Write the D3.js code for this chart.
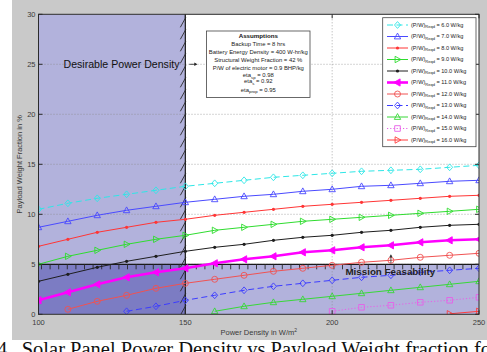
<!DOCTYPE html>
<html><head><meta charset="utf-8">
<script src="https://cdn.jsdelivr.net/npm/d3@7"></script>
<style>
html,body{margin:0;padding:0;background:#fff;}
svg{display:block;font-family:"Liberation Sans",Arial,Helvetica,sans-serif;}
</style></head><body>
<svg id="chart" width="487" height="352"></svg>
<script>
// Power density samples (W/m^2)
const powerDensity = [100,110,120,130,140,150,160,170,180,190,200,210,220,230,240,250];

// Payload weight fraction (%) for each required power-to-weight ratio (W/kg)
const pw6  = [10.5,11.1,11.6,12.0,12.4,12.8,13.1,13.4,13.7,13.9,14.1,14.3,14.4,14.5,14.7,14.9];
const pw7  = [8.7,9.3,9.9,10.4,10.8,11.2,11.5,11.8,12.0,12.3,12.5,12.8,12.9,13.1,13.3,13.4];
const pw8  = [6.8,7.5,8.2,8.7,9.2,9.5,9.9,10.2,10.5,10.8,11.0,11.2,11.4,11.6,11.8,11.9];
const pw9  = [5.0,5.8,6.4,7.0,7.5,7.9,8.4,8.7,9.0,9.3,9.5,9.7,9.9,10.1,10.3,10.5];
const pw10 = [3.3,4.0,4.7,5.3,5.8,6.3,6.7,7.0,7.4,7.7,7.9,8.2,8.4,8.7,8.9,9.0];
const pw11 = [1.4,2.2,3.0,3.7,4.2,4.6,5.1,5.5,5.8,6.2,6.4,6.7,6.9,7.2,7.4,7.5];
const pw12 = [null,0.5,1.3,1.9,2.6,3.1,3.5,3.9,4.3,4.6,4.9,5.2,5.4,5.7,5.9,6.1];
const pw13 = [null,null,null,0.3,0.8,1.4,1.9,2.4,2.8,3.1,3.4,3.7,3.9,4.2,4.4,4.6];
const pw14 = [null,null,null,null,null,null,0.3,0.8,1.2,1.5,1.8,2.1,2.4,2.7,3.0,3.3];
const pw15 = [null,null,null,null,null,null,null,null,null,null,0.3,0.7,0.9,1.2,1.4,1.7];
const pw16 = [null,null,null,null,null,null,null,null,null,null,null,null,null,null,0.05,0.3];

const seriesValues = [pw6,pw7,pw8,pw9,pw10,pw11,pw12,pw13,pw14,pw15,pw16];
const seriesLabels = ["6.0","7.0","8.0","9.0","10.0","11.0","12.0","13.0","14.0","15.0","16.0"];

// Axis ticks
const xTicks = [100,150,200,250];
const yTicks = [0,5,10,15,20,25,30];

// Shaded design regions
const desirableRegion = {x0:100, x1:150, y0:0, y1:30};
const feasibleRegion  = {x0:100, x1:250, y0:0, y1:5};

// Assumption box lines
const assumptions = [
  ["Backup Time =  8 hrs"],
  ["Battery Energy Density = 400 W-hr/kg"],
  ["Structural Weight Fraction = 42 %"],
  ["P/W of electric motor = 0.9 BHP/kg"],
  ["eta","sp"," = 0.98"],
  ["eta","s"," = 0.92"],
  ["eta","prop"," = 0.95"]
];

// Line styles per series
const styles = [
  {color:"#2ee6e6", dash:"6,3.5", marker:"diamond", width:1},
  {color:"#4a4aff", dash:null, marker:"triUp", width:1},
  {color:"#ff3535", dash:null, marker:"dot", width:1},
  {color:"#2fdc2f", dash:null, marker:"triRight", width:1},
  {color:"#1e1e1e", dash:null, marker:"dot", width:1},
  {color:"#ff00ff", dash:null, marker:"triLeftFill", width:2.6},
  {color:"#f05252", dash:null, marker:"circle", width:1},
  {color:"#3c3cff", dash:"6,3.5", marker:"diamond", width:1},
  {color:"#38d838", dash:null, marker:"triUp", width:1},
  {color:"#e860e8", dash:"1.2,2", marker:"square", width:1},
  {color:"#ff3c3c", dash:null, marker:"triRight", width:1}
];

const svg = d3.select("#chart");
const W = 487, H = 352;

// Figure background
svg.append("rect").attr("x",12).attr("y",0).attr("width",W-12).attr("height",340).attr("fill","#c9c9c9");

const x = d3.scaleLinear().domain([100,250]).range([38.5,479]);
const y = d3.scaleLinear().domain([0,30]).range([314.3,14.3]);

// Axes background
svg.append("rect").attr("x",x(100)).attr("y",y(30)).attr("width",x(250)-x(100)).attr("height",y(0)-y(30)).attr("fill","#fff");

svg.append("clipPath").attr("id","plotClip").append("rect")
  .attr("x",x(100)).attr("y",y(30)).attr("width",x(250)-x(100)).attr("height",y(0)-y(30));

const plot = svg.append("g").attr("clip-path","url(#plotClip)");

// Shaded regions (overlap darkens)
[desirableRegion, feasibleRegion].forEach(r => {
  plot.append("rect")
    .attr("x",x(r.x0)).attr("y",y(r.y1))
    .attr("width",x(r.x1)-x(r.x0)).attr("height",y(r.y0)-y(r.y1))
    .attr("fill","#00008b").attr("fill-opacity",0.3);
});

// Dotted grid
const grid = plot.append("g").attr("stroke","#8a8a8a").attr("stroke-width",0.7).attr("stroke-dasharray","1,2");
yTicks.filter(t => t>0 && t<30).forEach(t => {
  grid.append("line").attr("x1",x(100)).attr("x2",x(250)).attr("y1",y(t)).attr("y2",y(t));
});
xTicks.filter(t => t>100 && t<250).forEach(t => {
  grid.append("line").attr("x1",x(t)).attr("x2",x(t)).attr("y1",y(0)).attr("y2",y(30));
});

// Boundary of the desirable region: vertical line with hatching
const bx = x(desirableRegion.x1);
plot.append("line").attr("x1",bx).attr("x2",bx).attr("y1",y(0)).attr("y2",y(30))
  .attr("stroke","#1a1a1a").attr("stroke-width",1.2);
d3.range(y(0)-4, y(30), -12).forEach(py => {
  plot.append("line").attr("x1",bx-5).attr("y1",py+5).attr("x2",bx+0.5).attr("y2",py-5)
    .attr("stroke","#2a2a2a").attr("stroke-width",0.9);
});

// Boundary of the feasible region: horizontal line with ticks
const by = y(feasibleRegion.y1);
plot.append("line").attr("x1",x(100)).attr("x2",x(250)).attr("y1",by).attr("y2",by)
  .attr("stroke","#1a1a1a").attr("stroke-width",1.2);
d3.range(x(100)+3, x(250), 8.6).forEach(px => {
  plot.append("line").attr("x1",px).attr("x2",px).attr("y1",by).attr("y2",by+5)
    .attr("stroke","#2a2a2a").attr("stroke-width",0.9);
});

// Marker shapes
function markerPath(type){
  switch(type){
    case "diamond": return "M0,-3.4L3,0L0,3.4L-3,0Z";
    case "triUp": return "M0,-3.4L3.2,2.4L-3.2,2.4Z";
    case "triRight": return "M3.4,0L-2.4,-3.2L-2.4,3.2Z";
    case "triLeftFill": return "M-3.8,0L2.6,-3.6L2.6,3.6Z";
    case "square": return "M-2.8,-2.8H2.8V2.8H-2.8Z";
    default: return null;
  }
}
function drawMarker(g, type, color, cx, cy){
  if(type==="circle"){
    g.append("circle").attr("cx",cx).attr("cy",cy).attr("r",3).attr("fill","none").attr("stroke",color).attr("stroke-width",0.9);
  } else if(type==="dot"){
    g.append("circle").attr("cx",cx).attr("cy",cy).attr("r",1.6).attr("fill",color);
  } else {
    const filled = type==="triLeftFill";
    g.append("path").attr("d",markerPath(type)).attr("transform",`translate(${cx},${cy})`)
      .attr("fill",filled?color:"none").attr("stroke",color).attr("stroke-width",0.9);
  }
}

const line = d3.line().defined(d => d.v !== null).x(d => x(d.p)).y(d => y(d.v));

seriesValues.forEach((vals,i) => {
  const st = styles[i];
  const pts = powerDensity.map((p,j) => ({p, v: vals[j]}));
  const g = plot.append("g");
  g.append("path").datum(pts).attr("d",line).attr("fill","none")
    .attr("stroke",st.color).attr("stroke-width",st.width)
    .attr("stroke-dasharray",st.dash);
  pts.filter(d => d.v !== null).forEach(d => drawMarker(g, st.marker, st.color, x(d.p), y(d.v)));
});

// Axes frame and ticks
const frame = svg.append("g").attr("stroke","#2b2b2b").attr("stroke-width",1);
frame.append("rect").attr("x",x(100)).attr("y",y(30)).attr("width",x(250)-x(100)).attr("height",y(0)-y(30)).attr("fill","none");
yTicks.forEach(t => {
  frame.append("line").attr("x1",x(100)).attr("x2",x(100)+4).attr("y1",y(t)).attr("y2",y(t));
  frame.append("line").attr("x1",x(250)).attr("x2",x(250)-4).attr("y1",y(t)).attr("y2",y(t));
});
xTicks.forEach(t => {
  frame.append("line").attr("x1",x(t)).attr("x2",x(t)).attr("y1",y(0)).attr("y2",y(0)-4);
  frame.append("line").attr("x1",x(t)).attr("x2",x(t)).attr("y1",y(30)).attr("y2",y(30)+4);
});

const tickColor = "#3a3a3a";
yTicks.forEach(t => {
  svg.append("text").attr("x",x(100)-3).attr("y",y(t)+2.3).attr("text-anchor","end")
    .attr("font-size",7.5).attr("fill",tickColor).text(t);
});
xTicks.forEach(t => {
  svg.append("text").attr("x",x(t)).attr("y",y(0)+10.3).attr("text-anchor","middle")
    .attr("font-size",7.5).attr("fill",tickColor).text(t);
});

// Axis titles
const xt = svg.append("text").attr("x",(x(100)+x(250))/2).attr("y",335).attr("text-anchor","middle")
  .attr("font-size",7.5).attr("fill",tickColor);
xt.append("tspan").text("Power Density in W/m");
xt.append("tspan").attr("font-size",5).attr("dy",-3).text("2");

svg.append("text").attr("transform",`translate(22,${(y(0)+y(30))/2}) rotate(-90)`)
  .attr("text-anchor","middle").attr("font-size",7.5).attr("fill",tickColor)
  .text("Payload Weight Fraction in %");

// Region annotations
svg.append("text").attr("x",x(100)+25).attr("y",y(25)+3.8).attr("font-size",10.6).attr("fill","#111")
  .text("Desirable Power Density");
svg.append("line").attr("x1",bx+4).attr("x2",bx+11).attr("y1",y(25)).attr("y2",y(25)).attr("stroke","#222").attr("stroke-width",0.8);
svg.append("path").attr("d",`M${bx+12},${y(25)}l-3,-1.8v3.6z`).attr("fill","#222");

svg.append("text").attr("x",x(204.5)).attr("y",y(5)+10.5).attr("font-size",9.8).attr("font-weight","bold")
  .attr("fill","#222").text("Mission Feasability");
svg.append("line").attr("x1",x(220)).attr("x2",x(220)).attr("y1",y(5)-1).attr("y2",y(5)-9).attr("stroke","#333").attr("stroke-width",0.8);
svg.append("path").attr("d",`M${x(220)},${y(5)-10}l-1.6,3h3.2z`).attr("fill","#333");

// Assumptions box
const ab = svg.append("g");
ab.append("rect").attr("x",206.5).attr("y",31).attr("width",103.5).attr("height",66.5)
  .attr("fill","#fff").attr("stroke","#444").attr("stroke-width",0.8);
const acx = 258.3;
ab.append("text").attr("x",acx).attr("y",37.5).attr("text-anchor","middle").attr("font-size",6.2)
  .attr("font-weight","bold").attr("fill","#111").text("Assumptions");
const aY = [45.8,54,62.3,70.1,76.8,83.4,91.5];
assumptions.forEach((parts,i) => {
  const t = ab.append("text").attr("x",acx).attr("y",aY[i]).attr("text-anchor","middle")
    .attr("font-size",5.9).attr("fill","#222");
  if(parts.length===1){ t.text(parts[0]); }
  else {
    t.append("tspan").text(parts[0]);
    t.append("tspan").attr("font-size",4.3).attr("dy",1.8).text(parts[1]);
    t.append("tspan").attr("dy",-1.8).text(parts[2]);
  }
});

// Legend
const lg = svg.append("g");
lg.append("rect").attr("x",382.7).attr("y",17.7).attr("width",93.3).attr("height",129)
  .attr("fill","#fff").attr("stroke","#444").attr("stroke-width",0.8);
seriesLabels.forEach((lab,i) => {
  const st = styles[i];
  const ly = 25 + i*11.5;
  lg.append("line").attr("x1",387).attr("x2",408).attr("y1",ly).attr("y2",ly)
    .attr("stroke",st.color).attr("stroke-width",st.width).attr("stroke-dasharray",st.dash);
  drawMarker(lg, st.marker, st.color, 397.5, ly);
  const t = lg.append("text").attr("x",411).attr("y",ly+1.8).attr("font-size",5.6).attr("fill","#222");
  t.append("tspan").text("(P/W)");
  t.append("tspan").attr("font-size",4).attr("dy",1.6).text("Reqd");
  t.append("tspan").attr("dy",-1.6).text(` = ${lab} W/kg`);
});

// Caption
const cap = svg.append("text").attr("y",355.8)
  .style("font-family","'Liberation Serif','Times New Roman',serif")
  .attr("font-size",20.5).attr("fill","#111");
cap.append("tspan").attr("x",-3).text("4");
cap.append("tspan").attr("x",21.7).text("Solar Panel Power Density vs Payload Weight fraction for");
</script>
</body></html>
